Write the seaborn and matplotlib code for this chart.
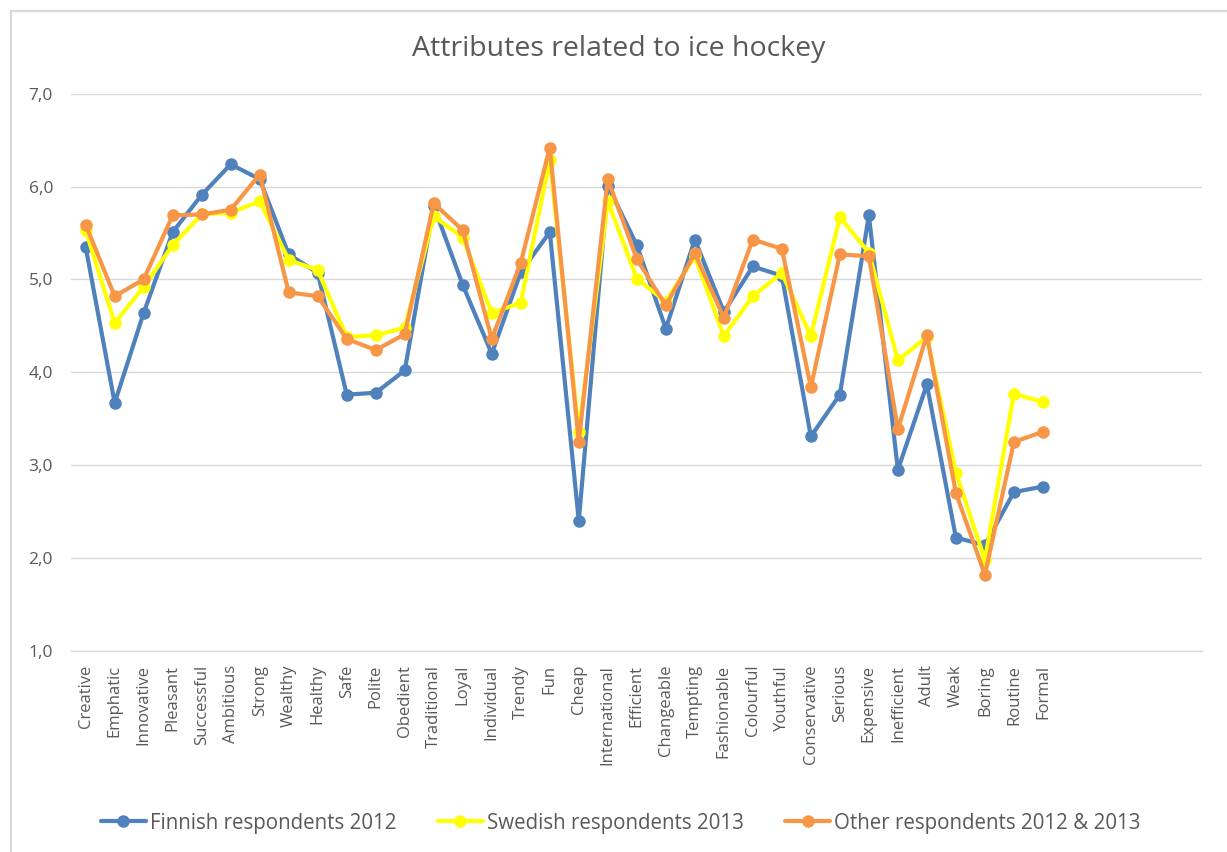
import matplotlib
matplotlib.use("Agg")
import matplotlib.pyplot as plt
import seaborn as sns
import pandas as pd
from matplotlib.ticker import FuncFormatter, FixedLocator
from matplotlib.lines import Line2D

attributes = [
    "Creative", "Emphatic", "Innovative", "Pleasant", "Successful", "Ambitious",
    "Strong", "Wealthy", "Healthy", "Safe", "Polite", "Obedient", "Traditional",
    "Loyal", "Individual", "Trendy", "Fun", "Cheap", "International", "Efficient",
    "Changeable", "Tempting", "Fashionable", "Colourful", "Youthful", "Conservative",
    "Serious", "Expensive", "Inefficient", "Adult", "Weak", "Boring", "Routine", "Formal",
]

finnish_2012 = [
    5.35, 3.67, 4.64, 5.51, 5.91, 6.24, 6.08, 5.27, 5.07, 3.76, 3.78, 4.02, 5.79,
    4.94, 4.20, 5.08, 5.51, 2.40, 6.01, 5.37, 4.47, 5.43, 4.65, 5.14, 5.04, 3.31,
    3.76, 5.69, 2.95, 3.87, 2.22, 2.14, 2.71, 2.77,
]
swedish_2013 = [
    5.53, 4.53, 4.92, 5.37, 5.70, 5.72, 5.84, 5.21, 5.10, 4.38, 4.40, 4.48, 5.68,
    5.45, 4.64, 4.75, 6.29, 3.36, 5.84, 5.01, 4.76, 5.25, 4.39, 4.82, 5.07, 4.39,
    5.67, 5.29, 4.13, 4.38, 2.92, 1.98, 3.77, 3.68,
]
other_2012_2013 = [
    5.59, 4.82, 5.00, 5.69, 5.70, 5.75, 6.13, 4.86, 4.82, 4.36, 4.24, 4.41, 5.82,
    5.53, 4.36, 5.18, 6.42, 3.25, 6.08, 5.22, 4.72, 5.28, 4.59, 5.43, 5.33, 3.84,
    5.27, 5.25, 3.39, 4.40, 2.70, 1.82, 3.25, 3.36,
]

series_names = [
    "Finnish respondents 2012",
    "Swedish respondents 2013",
    "Other respondents 2012 & 2013",
]
series_colors = ["#4F81BD", "#FFFF00", "#F79646"]
total_slots = 39  # category axis keeps room for a few unused slots on the right

rows = []
for name, values in zip(series_names, [finnish_2012, swedish_2013, other_2012_2013]):
    for i, v in enumerate(values):
        rows.append({"pos": i, "attribute": attributes[i], "score": v, "group": name})
df = pd.DataFrame(rows)

sns.set_theme(style="white")
plt.rcParams["font.family"] = ["Open Sans", "DejaVu Sans"]
text_grey = "#595959"

fig = plt.figure(figsize=(12.27, 8.52), dpi=100)
ax = fig.add_axes([0.058, 0.236, 0.922, 0.654])

sns.lineplot(
    data=df, x="pos", y="score", hue="group", hue_order=series_names,
    palette=dict(zip(series_names, series_colors)),
    marker="o", markersize=9, markeredgewidth=0, linewidth=3.0,
    ax=ax, legend=False, sort=False,
)

ax.set_xlim(-0.5, total_slots - 0.5)
ax.set_ylim(1.0, 7.0)
ax.yaxis.set_major_locator(FixedLocator([1, 2, 3, 4, 5, 6, 7]))
ax.yaxis.set_major_formatter(FuncFormatter(lambda v, p: f"{v:.1f}".replace(".", ",")))
ax.set_xticks(range(len(attributes)))
ax.set_xticklabels(attributes, rotation=90, fontsize=12, color=text_grey)
ax.tick_params(axis="y", labelsize=12.5, labelcolor=text_grey, length=0, pad=13)
ax.tick_params(axis="x", length=0, pad=10)
ax.set_xlabel("")
ax.set_ylabel("")
ax.grid(axis="y", color="#D9D9D9", linewidth=1.0)
ax.grid(axis="x", visible=False)
for side in ["top", "right", "left"]:
    ax.spines[side].set_visible(False)
ax.spines["bottom"].set_color("#D9D9D9")
ax.spines["bottom"].set_linewidth(1.0)

fig.text(0.504, 0.943, "Attributes related to ice hockey", ha="center", va="center",
         fontsize=20.5, color=text_grey)

handles = [
    Line2D([0], [0], color=c, linewidth=3.0, marker="o", markersize=9, markeredgewidth=0)
    for c in series_colors
]
fig.legend(handles, series_names, loc="center", bbox_to_anchor=(0.506, 0.034), ncol=3,
           frameon=False, fontsize=14.8, labelcolor=text_grey, handlelength=2.2,
           handletextpad=0.2, columnspacing=2.0)

# light chart-area frame
W, H = 1227.0, 852.0
fig.patches.append(plt.Rectangle((11 / W, -0.01), 1.02 - 11 / W, 1 - 11 / H + 0.01,
                                 transform=fig.transFigure, fill=False,
                                 edgecolor="#D9D9D9", linewidth=1.6))

fig.savefig("out.png", dpi=100, facecolor="white")
